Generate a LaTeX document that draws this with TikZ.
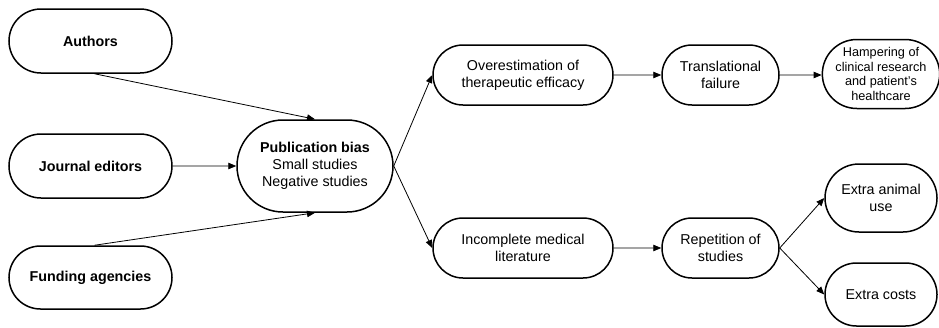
\documentclass[tikz,border=0pt]{standalone}
\usepackage{fontspec}
\setmainfont{Liberation Sans}
\usepackage{tikz}
\usetikzlibrary{shapes.misc,arrows.meta}
\tikzstyle{box}=[rounded rectangle,draw,line width=1.5pt,inner sep=1pt,align=center,minimum height=60pt,font=\fontsize{14.3}{16.8}\selectfont]
\tikzstyle{link}=[line width=0.8pt]

\begin{document}
\begin{tikzpicture}[x=1pt,y=-1pt,>={Triangle[length=8pt,width=6.5pt]}]
      \useasboundingbox (0,0) rectangle (939,327);
      \node[box,minimum width=165pt,minimum height=64pt] (authors) at (90.5, 41) {\textbf{Authors}};
      \node[box,minimum width=165pt,minimum height=64pt] (editors) at (90.5, 166) {\textbf{Journal editors}};
      \node[box,minimum width=165pt,minimum height=63pt] (funding) at (90.5, 277.5) {\textbf{Funding agencies}};
      \node[box,minimum width=158pt,minimum height=92pt] (bias) at (315, 166) {\textbf{Publication bias}\\Small studies\\Negative studies};
      \node[box,minimum width=182pt] (over) at (523, 75) {Overestimation of\\therapeutic efficacy};
      \node[box,minimum width=119pt] (trans) at (720.5, 75) {Translational\\failure};
      \node[box,minimum width=114pt,minimum height=69pt,font=\fontsize{12.7}{14.4}\selectfont] (hamper) at (881, 74) {Hampering of\\clinical research\\and patient's\\healthcare};
      \node[box,minimum width=182pt] (incomplete) at (523, 248) {Incomplete medical\\literature};
      \node[box,minimum width=119pt] (repeat) at (720.5, 248) {Repetition of\\studies};
      \node[box,minimum width=114pt,minimum height=68pt] (animals) at (881, 198) {Extra animal\\use};
      \node[box,minimum width=114pt,minimum height=63pt] (costs) at (881, 294.5) {Extra costs};
      \draw[link,->] ([xshift=4pt]authors.south) -- (bias.north);
      \draw[link,->] (editors) -- (bias);
      \draw[link,->] ([xshift=4pt]funding.north) -- (bias.south);
      \draw[link,->] (bias.east) -- (over.west);
      \draw[link,->] (bias.east) -- (incomplete.west);
      \draw[link,->] (over) -- (trans);
      \draw[link,->] (trans) -- (trans -| hamper.west);
      \draw[link,->] (incomplete) -- (repeat);
      \draw[link,->] (repeat.east) -- (animals.west);
      \draw[link,->] (repeat.east) -- (costs.west);
    \end{tikzpicture}
\end{document}
